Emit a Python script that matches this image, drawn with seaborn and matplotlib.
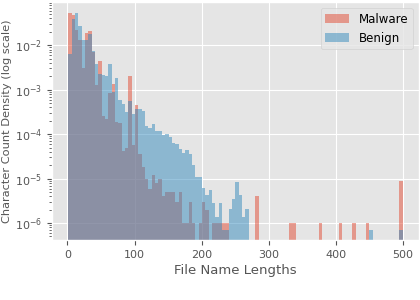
import matplotlib
matplotlib.use("Agg")
import matplotlib.pyplot as plt
import numpy as np
import pandas as pd
import seaborn as sns

# density per 5-char bin (100 bins between 1 and 500)
malware = [
    0.054, 0.049, 0.022, 0.0134, 0.0031, 0.019, 0.021, 0.007, 0.0013, 0.0044,
    0.00025, 0.00022, 0.00085, 0.00135, 0.00019, 0.00018, 4.1e-5, 5e-5, 0.002, 5.6e-5,
    0.00046, 3.5e-5, 1.8e-5, 1.0e-5, 6e-6, 1.2e-5, 8e-6, 1.0e-5, 4e-6, 5e-6,
    5e-6, 5e-6, 3e-6, 5e-6, 1e-6, 1e-6, 3e-6, 1e-6, 0, 1e-6,
    3e-6, 2e-6, 0, 1e-6, 1e-6, 1e-6, 1e-6, 1e-6, 0, 0,
    0, 0, 0, 0, 0, 0, 4e-6, 0, 0, 0,
    0, 0, 0, 0, 0, 0, 1e-6, 1e-6, 0, 0,
    0, 0, 0, 0, 0, 1e-6, 0, 0, 0, 0,
    0, 1e-6, 0, 0, 0, 1e-6, 0, 0, 0, 1e-6,
    0, 0, 0, 0, 0, 0, 0, 0, 0, 9e-6,
]
benign = [
    0.0065, 0.038, 0.054, 0.027, 0.0134, 0.013, 0.018, 0.0075, 0.0038, 0.0023,
    0.0021, 0.0020, 0.0038, 0.00088, 0.0018, 0.0006, 0.00048, 0.00032, 0.00055, 0.00028,
    0.00036, 0.00037, 0.00034, 0.000155, 0.00014, 0.00017, 0.00012, 0.000115, 9.8e-5, 0.000102,
    8.7e-5, 6.3e-5, 6.1e-5, 4.7e-5, 3.8e-5, 4.3e-5, 3.5e-5, 2.0e-5, 1.1e-5, 1.07e-5,
    6.2e-6, 4.2e-6, 5.6e-6, 2.8e-6, 1.4e-6, 2.8e-6, 7e-7, 7e-7, 2.1e-6, 3.5e-6,
    8.3e-6, 4.2e-6, 1.4e-6, 2.1e-6, 0, 0, 0, 0, 0, 0,
    0, 0, 0, 0, 0, 0, 0, 0, 0, 0,
    0, 0, 0, 0, 0, 0, 0, 0, 0, 0,
    0, 0, 0, 0, 0, 0, 0, 0, 0, 0,
    7e-7, 0, 0, 0, 0, 0, 0, 0, 0, 7e-7,
]

edges = np.linspace(1, 500, 101)
centers = (edges[:-1] + edges[1:]) / 2
df_mal = pd.DataFrame({"length": centers, "density": malware})
df_ben = pd.DataFrame({"length": centers, "density": benign})

plt.style.use("ggplot")
fig, ax = plt.subplots(figsize=(4.2, 3), dpi=100)

sns.histplot(data=df_mal, x="length", weights="density", bins=edges.tolist(),
             color="#E24A33", alpha=0.5, linewidth=0, label="Malware", ax=ax)
sns.histplot(data=df_ben, x="length", weights="density", bins=edges.tolist(),
             color="#348ABD", alpha=0.5, linewidth=0, label="Benign", ax=ax)

ax.set_yscale("log")
ax.set_ylim(10 ** -6.38, 10 ** -1.03)
ax.set_xlim(-23, 524)
ax.set_xticks([0, 100, 200, 300, 400, 500])
ax.tick_params(labelsize=8, colors="#555555")
ax.set_xlabel("File Name Lengths", fontsize=9.5, color="#555555", labelpad=3)
ax.set_ylabel("Character Count Density (log scale)", fontsize=8.2, color="#555555",
              labelpad=2)
ax.legend(loc="upper right", fontsize=8.5)

fig.subplots_adjust(left=0.124, right=0.997, top=0.993, bottom=0.2)
fig.savefig("out.png", dpi=100)
